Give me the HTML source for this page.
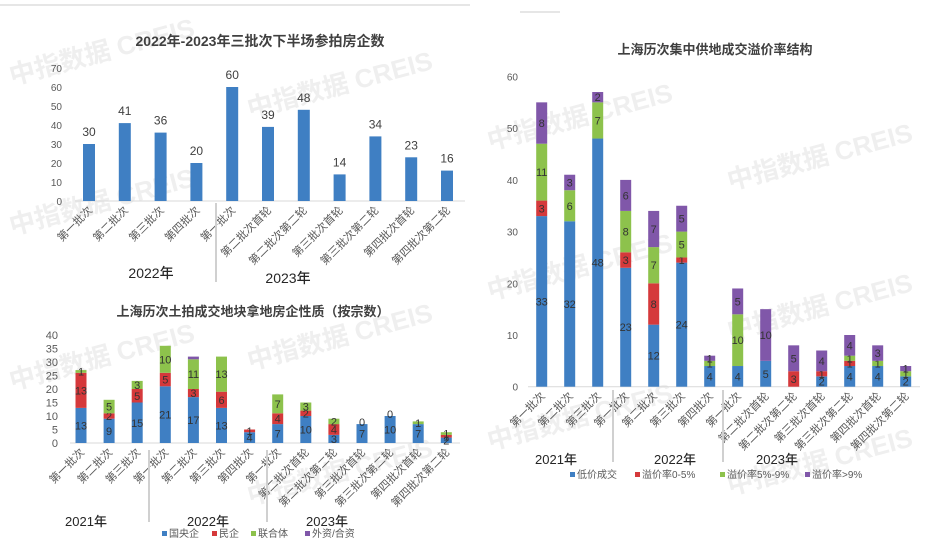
<!DOCTYPE html>
<html><head><meta charset="utf-8"><style>
body{margin:0;background:#fff;}
svg{display:block;font-family:"Liberation Sans","Noto Sans CJK SC",sans-serif;}
</style></head><body>
<svg id="s" width="938" height="547" viewBox="0 0 938 547" xmlns="http://www.w3.org/2000/svg"></svg>
<script>
const s=document.getElementById('s');let h='';
const C=['#3f7fc3','#d5393b','#8dc24c','#8057a9'];
function t(x,y,str,o){o=o||{};h+=`<text x="${x}" y="${y}" font-size="${o.fs||11}" fill="${o.c||'#595959'}" text-anchor="${o.a||'middle'}" ${o.b?'font-weight="bold"':''} ${o.w?`font-weight="${o.w}"`:''} ${o.r!==undefined?`transform="rotate(${o.r} ${x} ${y})"`:''}>${str}</text>`;}
function L(x1,y1,x2,y2,c,w){h+=`<line x1="${x1}" y1="${y1}" x2="${x2}" y2="${y2}" stroke="${c||'#d9d9d9'}" stroke-width="${w||1}"/>`;}
[[12,85],[250,118],[12,235],[250,370],[12,390],[250,505],[490,150],[730,190],[490,300],[730,340],[490,450],[730,495]].forEach(p=>{h+=`<text x="${p[0]}" y="${p[1]}" font-size="26" font-weight="bold" fill="#efefef" transform="rotate(-15 ${p[0]} ${p[1]})">中指数据 CREIS</text>`;});
L(0,5,470,5,'#e6e6e6',2);L(520,12,560,12,'#e6e6e6',2);
t(260,46,'2022年-2023年三批次下半场参拍房企数',{fs:14,b:1,c:'#404040'});
const y0=201,k=1.9;
for(let v=0;v<=70;v+=10)t(62,y0-v*k+4,v,{a:'end',fs:10});
L(75,y0,465,y0,'#d9d9d9');
const d1=[30,41,36,20,60,39,48,14,34,23,16];
const l1=['第一批次','第二批次','第三批次','第四批次','第一批次','第二批次首轮','第二批次第二轮','第三批次首轮','第三批次第二轮','第四批次首轮','第四批次第二轮'];
d1.forEach((v,i)=>{const x=89+i*35.8;h+=`<rect x="${x-6}" y="${y0-v*k}" width="12" height="${v*k}" fill="${C[0]}"/>`;t(x,y0-v*k-8,v,{fs:12,c:'#404040'});t(x+4,y0+10,l1[i],{a:'end',r:-45,fs:11});});
L(216,203,216,282,'#d0d0d0',2);
t(151,278,'2022年',{fs:14,c:'#262626',w:500});t(288,283,'2023年',{fs:14,c:'#262626',w:500});
t(253,316,'上海历次土拍成交地块拿地房企性质（按宗数）',{fs:13,b:1,c:'#404040'});
const b0=443,k2=2.7;
for(let v=0;v<=40;v+=5)t(58,b0-v*k2+4,v,{a:'end',fs:11});
L(70,b0,460,b0,'#d9d9d9');
const d2=[[13,13,1,0],[9,2,5,0],[15,5,3,0],[21,5,10,0],[17,3,11,1],[13,6,13,0],[4,1,0,0],[7,4,7,0],[10,2,3,0],[3,4,2,0],[7,0,0,0],[10,0,0,0],[7,0,1,0],[2,1,1,0]];
const l2=['第一批次','第二批次','第三批次','第一批次','第二批次','第三批次','第四批次','第一批次','第二批次首轮','第二批次第二轮','第三批次首轮','第三批次第二轮','第四批次首轮','第四批次第二轮'];
d2.forEach((a,i)=>{const x=81+i*28.1;let c=0;a.forEach((v,j)=>{if(v>0){h+=`<rect x="${x-5.5}" y="${b0-(c+v)*k2}" width="11" height="${v*k2}" fill="${C[j]}"/>`;if(j<3)t(x,b0-(c+v/2)*k2+4,v,{fs:11,c:'#333'});}c+=v;});if(a[1]+a[2]==0)t(x,b0-c*k2+2,0,{fs:11,c:'#333'});t(x+4,b0+10,l2[i],{a:'end',r:-45,fs:11});});
L(149,450,149,522,'#d0d0d0',2);L(267,450,267,522,'#d0d0d0',2);
t(86,526,'2021年',{fs:13,c:'#262626',w:500});t(208,526,'2022年',{fs:13,c:'#262626',w:500});t(327,526,'2023年',{fs:13,c:'#262626',w:500});
[['国央企',162],['民企',212],['联合体',251],['外资/合资',305]].forEach((p,i)=>{h+=`<rect x="${p[1]}" y="531" width="5" height="5" fill="${C[i]}"/>`;t(p[1]+7,537,p[0],{a:'start',fs:10});});
t(715,54,'上海历次集中供地成交溢价率结构',{fs:13,b:1,c:'#404040'});
const c0=386.7,k3=5.17;
for(let v=0;v<=60;v+=10)t(518,c0-v*k3+4,v,{a:'end',fs:10});
L(528,c0,920,c0,'#d9d9d9');
const d3=[[33,3,11,8],[32,0,6,3],[48,0,7,2],[23,3,8,6],[12,8,7,7],[24,1,5,5],[4,0,1,1],[4,0,10,5],[5,0,0,10],[0,3,0,5],[2,1,0,4],[4,1,1,4],[4,0,1,3],[2,0,1,1]];
d3.forEach((a,i)=>{const x=541.7+i*28;let c=0;a.forEach((v,j)=>{if(v>0){h+=`<rect x="${x-5.5}" y="${c0-(c+v)*k3}" width="11" height="${v*k3}" fill="${C[j]}"/>`;t(x,c0-(c+v/2)*k3+4,v,{fs:11,c:'#333'});}c+=v;});t(x+4,c0+10,l2[i],{a:'end',r:-45,fs:11});});
L(613,390,613,462,'#d0d0d0',2);L(723,390,723,462,'#d0d0d0',2);
t(556,464,'2021年',{fs:13,c:'#262626',w:500});t(675,464,'2022年',{fs:13,c:'#262626',w:500});t(777,464,'2023年',{fs:13,c:'#262626',w:500});
[['低价成交',570],['溢价率0-5%',635],['溢价率5%-9%',720],['溢价率>9%',805]].forEach((p,i)=>{h+=`<rect x="${p[1]}" y="472" width="5" height="5" fill="${C[i]}"/>`;t(p[1]+7,478,p[0],{a:'start',fs:10});});
s.innerHTML=h;
</script>
</body></html>
